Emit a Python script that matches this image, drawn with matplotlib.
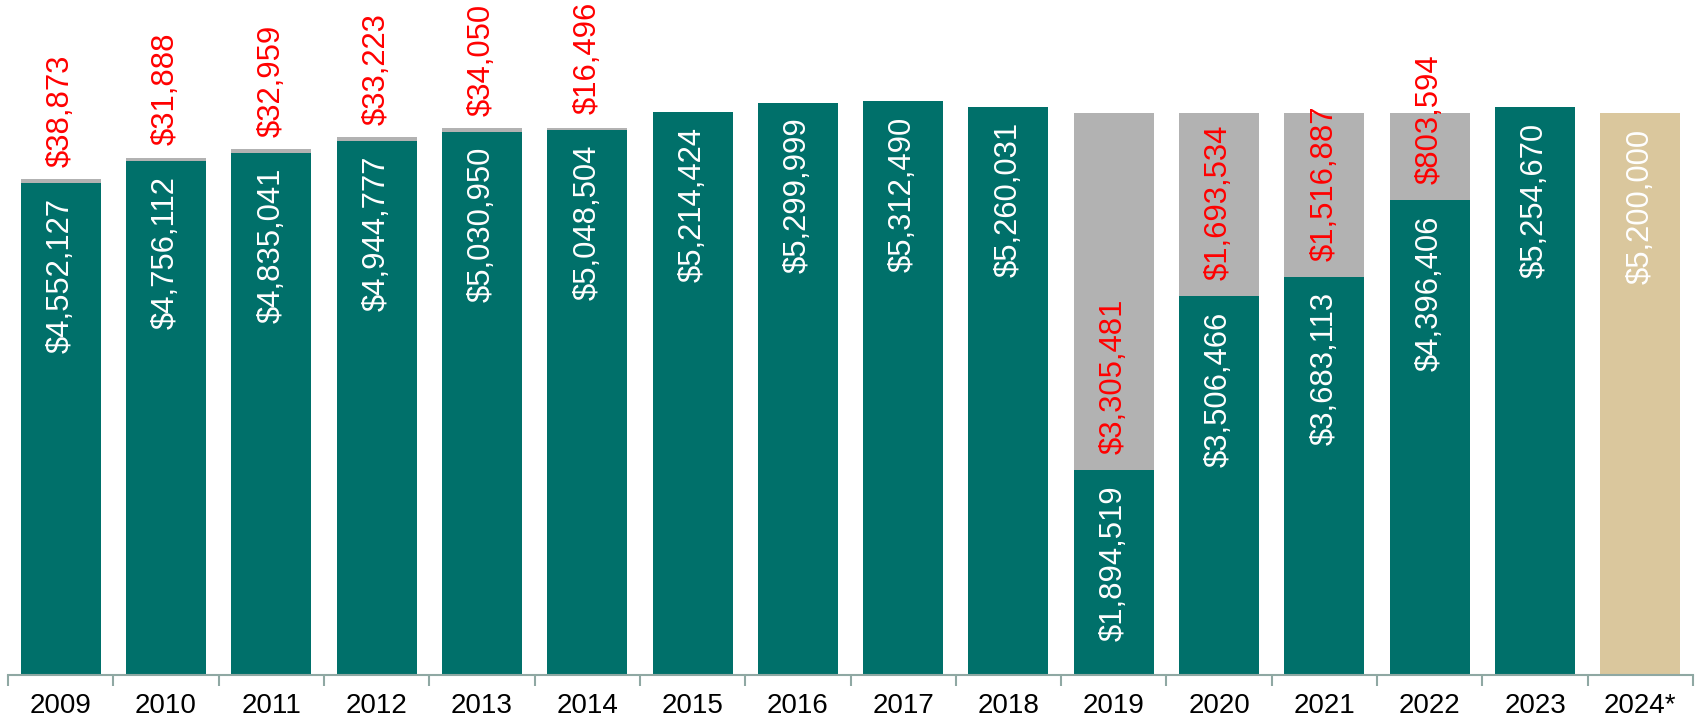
import numpy as np
import matplotlib.pyplot as plt

plt.rcParams['font.family'] = ['Liberation Sans', 'DejaVu Sans']

years = ['2009', '2010', '2011', '2012', '2013', '2014', '2015', '2016',
         '2017', '2018', '2019', '2020', '2021', '2022', '2023', '2024*']
# paid part (green) and shortfall part (gray); last year is the projection
paid = [4552127, 4756112, 4835041, 4944777, 5030950, 5048504, 5214424, 5299999,
        5312490, 5260031, 1894519, 3506466, 3683113, 4396406, 5254670, 0]
shortfall = [38873, 31888, 32959, 33223, 34050, 16496, 0, 0,
             0, 0, 3305481, 1693534, 1516887, 803594, 0, 0]
projected = [0] * 15 + [5200000]

GREEN = '#00706A'
GRAY = '#B2B2B2'
TAN = '#DAC79D'
AXIS = '#8FA8A3'

fig = plt.figure(figsize=(16.98, 7.21), dpi=100)
ax = fig.add_axes([8 / 1698, 46 / 721, 1685 / 1698, 675 / 721])

x = np.arange(len(years))
w = 0.76
ax.bar(x, paid, w, color=GREEN, linewidth=0)
ax.bar(x, shortfall, w, bottom=paid, color=GRAY, linewidth=0)
ax.bar(x, projected, w, color=TAN, linewidth=0)

fs = 22.3
for i in range(len(years)):
    top = paid[i] if paid[i] else projected[i]
    ax.annotate(f'${top:,.0f}', (x[i], top), xytext=(0, -15),
                textcoords='offset pixels', rotation=90, ha='center', va='top',
                color='white', fontsize=fs)
    if shortfall[i]:
        ax.annotate(f'${shortfall[i]:,.0f}', (x[i], paid[i]), xytext=(0, 16),
                    textcoords='offset pixels', rotation=90, ha='center',
                    va='bottom', color='red', fontsize=fs)

ax.set_xlim(-0.5, len(years) - 0.5)
ax.set_ylim(0, 6.25e6)
for s in ['top', 'right', 'left']:
    ax.spines[s].set_visible(False)
ax.spines['bottom'].set_color(AXIS)
ax.spines['bottom'].set_linewidth(1.5)
ax.set_yticks([])
ax.set_xticks(x)
ax.set_xticklabels(years, fontsize=20)
ax.tick_params(axis='x', which='major', length=0, pad=13)
ax.set_xticks(np.arange(-0.5, len(years)), minor=True)
ax.tick_params(axis='x', which='minor', length=8, width=1.5, color=AXIS)

fig.savefig('out.png', dpi=100)
